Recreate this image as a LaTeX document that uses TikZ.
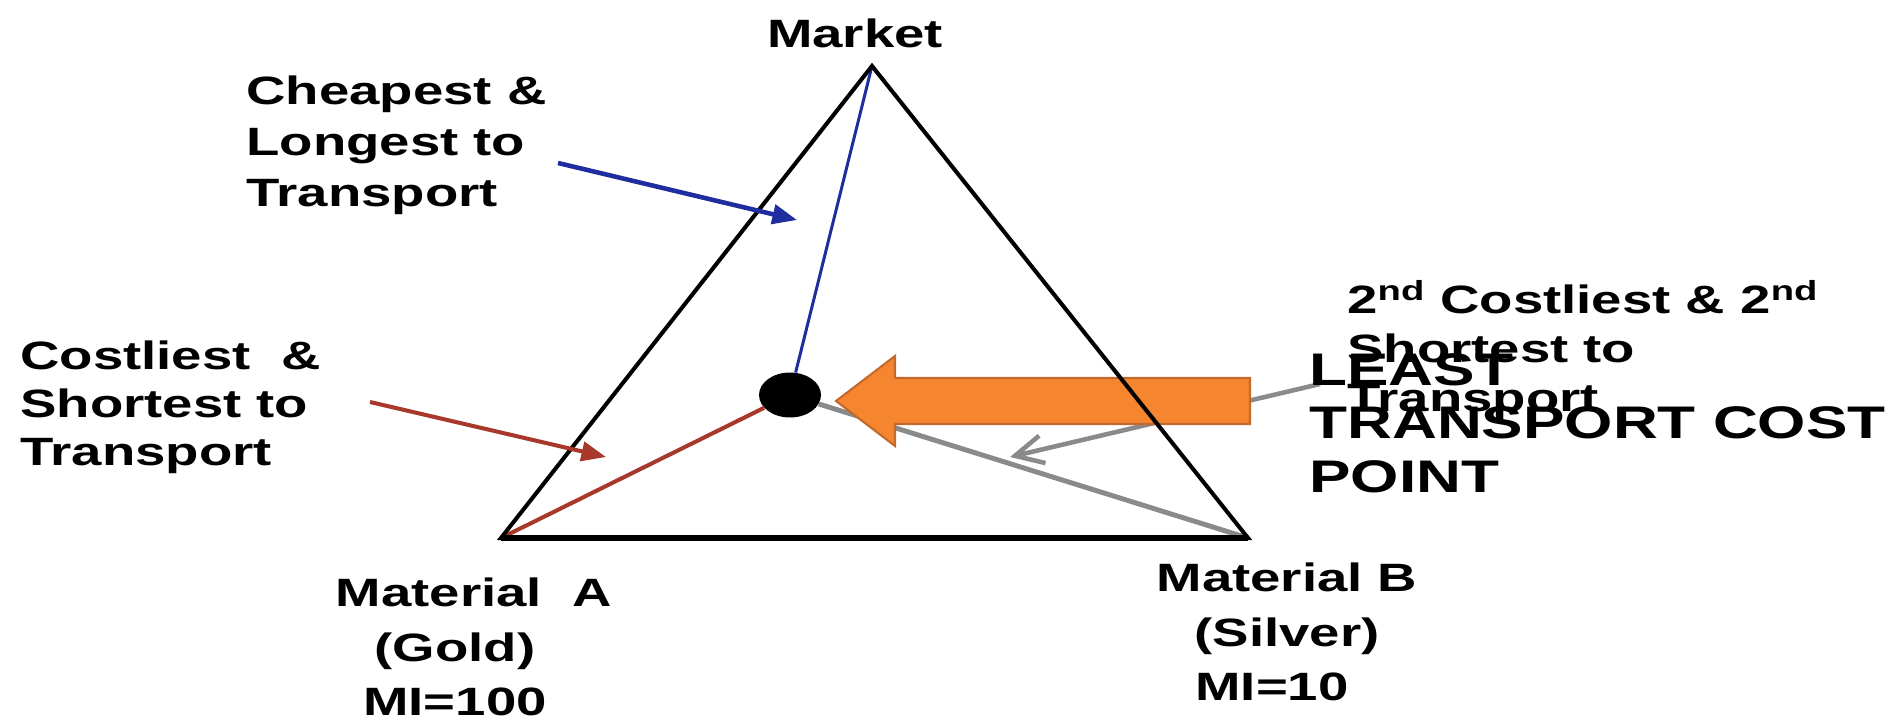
\documentclass[tikz,border=0pt]{standalone}
\usepackage{fontspec}
\setmainfont{Liberation Sans}
\newfontfamily\lblfont[FakeStretch=1.38]{Liberation Sans}
\newfontfamily\bigfont[FakeStretch=1.36]{Liberation Sans}
\usetikzlibrary{arrows.meta,positioning,shapes.geometric}
\definecolor{route}{HTML}{1F2D9E}
\definecolor{costly}{HTML}{A8382B}
\definecolor{second}{HTML}{8A8A8A}
\definecolor{orangefill}{HTML}{F5852E}
\definecolor{orangeedge}{HTML}{C4692C}

\begin{document}
\begin{tikzpicture}[
  x=0.02cm, y=-0.02cm,
  lbl/.style={font=\lblfont\bfseries\fontsize{22.5pt}{29pt}\selectfont,inner sep=0pt,align=left},
  big/.style={font=\bigfont\bfseries\fontsize{26pt}{30.5pt}\selectfont,inner sep=0pt,align=left},
  tri/.style={draw=black,line width=2.3pt,line join=miter},
  bluecall/.style={draw=route,line width=2.6pt,-{Triangle[length=14pt,width=11pt]}},
  redcall/.style={draw=costly,line width=2.3pt,-{Triangle[length=14pt,width=11pt]}},
  graycall/.style={draw=second,line width=2.6pt,-{Straight Barb[length=16pt,width=16pt]}},
  bigarrow/.style={fill=orangefill,draw=orangeedge,line width=1.2pt,line join=miter}
]
\useasboundingbox (0,0) rectangle (1899,722);

% corners of the triangle
\coordinate (M) at (872,66);
\coordinate (A) at (501,538);
\coordinate (B) at (1248,538);

% least cost point
\node[ellipse,fill=black,minimum width=1.24cm,minimum height=0.9cm,inner sep=0pt] (ltc) at (790,395) {};

% routes to the point
\draw[draw=costly,line width=2.3pt] (A) -- (ltc);
\draw[draw=second,line width=2.8pt] (ltc) -- (B);
\draw[draw=route,line width=1.7pt] (M) -- (ltc);

% gray callout (under the big arrow)
\coordinate (secT) at (1320,384);
\coordinate (secH) at (1010,457);
\draw[graycall] (secT) -- (secH);

% big orange arrow
\coordinate (tip) at (836,401);
\draw[bigarrow] (tip) -- ++(59,-45) -- ++(0,22) -- ++(355,0) -- ++(0,46)
  -- ++(-355,0) -- ++(0,22) -- cycle;

% triangle
\draw[tri] (M) -- (A) -- (B) -- cycle;
\draw[tri,line width=3.4pt] (A) -- (B);

% other callouts
\coordinate (cheapT) at (558,163);
\coordinate (cheapH) at (797,220);
\draw[bluecall] (cheapT) -- (cheapH);
\coordinate (costT) at (370,402);
\coordinate (costH) at (606,457);
\draw[redcall] (costT) -- (costH);

% labels
\node[lbl] (mkt) at (855,33) {Market};
\node[lbl,anchor=west] (cheap) at (246,145) {Cheapest \&\\Longest to\\Transport};
\node[lbl,anchor=west,font=\lblfont\bfseries\fontsize{22.5pt}{27.3pt}\selectfont] (cost) at (20,407) {Costliest\ \ \&\\Shortest to\\Transport};
\node[lbl,anchor=west,font=\lblfont\bfseries\fontsize{22.5pt}{28pt}\selectfont] (sec) at (1347,350) {2\textsuperscript{nd} Costliest \& 2\textsuperscript{nd}\\Shortest to\\Transport};
\node[big,anchor=west] (least) at (1309,423) {LEAST\\TRANSPORT COST\\POINT};
\node[lbl,align=center,font=\lblfont\bfseries\fontsize{22.5pt}{31pt}\selectfont] (matA) at (455,647) {\hspace*{0.75cm}Material\ \ A\\(Gold)\\MI=100};
\node[lbl,align=center,font=\lblfont\bfseries\fontsize{22.5pt}{31pt}\selectfont] (matB) at (1287,632) {Material B\\(Silver)\\MI=10\hspace*{0.6cm}};
\end{tikzpicture}
\end{document}
